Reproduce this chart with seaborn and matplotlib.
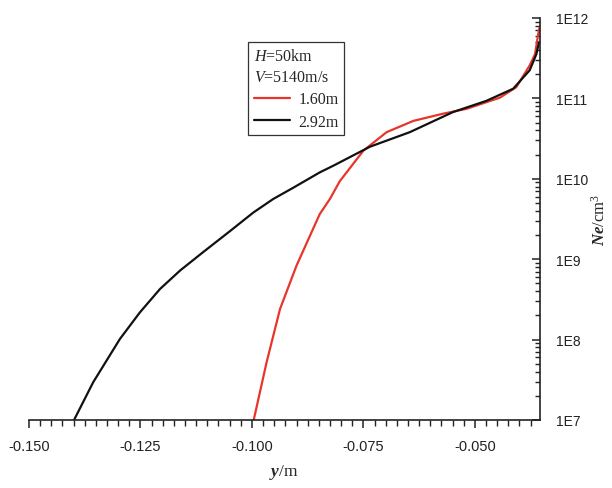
import matplotlib
matplotlib.use("Agg")
import matplotlib.pyplot as plt
from matplotlib.ticker import FixedLocator, FixedFormatter, MultipleLocator, LogLocator, NullFormatter
import seaborn as sns
import pandas as pd

# ---- data ----
y_160 = [-0.0996, -0.0967, -0.0937, -0.0900, -0.0848, -0.0825, -0.0803, -0.0750, -0.0698,
         -0.0638, -0.0571, -0.0519, -0.0444, -0.0407, -0.0377, -0.0365, -0.0358, -0.0354]
ne_160 = [1.00e7, 5.25e7, 2.40e8, 8.32e8, 3.63e9, 5.62e9, 9.33e9, 2.24e10, 3.80e10,
          5.25e10, 6.46e10, 7.41e10, 1.02e11, 1.38e11, 2.57e11, 3.55e11, 6.31e11, 7.94e11]

y_292 = [-0.1399, -0.1356, -0.1296, -0.1251, -0.1206, -0.1161, -0.1109, -0.1049, -0.0997,
         -0.0952, -0.0907, -0.0848, -0.0818, -0.0735, -0.0646, -0.0549, -0.0474, -0.0414,
         -0.0377, -0.0362, -0.0356]
ne_292 = [1.00e7, 2.95e7, 1.02e8, 2.19e8, 4.27e8, 7.24e8, 1.23e9, 2.24e9, 3.80e9,
          5.62e9, 7.76e9, 1.20e10, 1.45e10, 2.51e10, 3.80e10, 6.76e10, 9.33e10, 1.32e11,
          2.24e11, 3.55e11, 5.01e11]

series_names = ["1.60m", "2.92m"]
series_colors = ["#e8352a", "#111111"]

x_ticks = [-0.150, -0.125, -0.100, -0.075, -0.050]
x_ticklabels = ["-0.150", "-0.125", "-0.100", "-0.075", "-0.050"]
y_ticks = [1e7, 1e8, 1e9, 1e10, 1e11, 1e12]
y_ticklabels = ["1E7", "1E8", "1E9", "1E10", "1E11", "1E12"]

legend_title = "$H$=50km\n$V$=5140m/s"

# ---- build table ----
df = pd.concat([
    pd.DataFrame({"y": y_160, "Ne": ne_160, "case": series_names[0]}),
    pd.DataFrame({"y": y_292, "Ne": ne_292, "case": series_names[1]}),
], ignore_index=True)

sns.set_style("ticks")
plt.rcParams["font.family"] = ["Liberation Sans", "DejaVu Sans"]
plt.rcParams["mathtext.fontset"] = "custom"
plt.rcParams["mathtext.rm"] = "Liberation Serif"
plt.rcParams["mathtext.it"] = "Liberation Serif:italic"
plt.rcParams["mathtext.bf"] = "Liberation Serif:bold"
plt.rcParams["mathtext.bfit"] = "Liberation Serif:italic:bold"

fig = plt.figure(figsize=(6.12, 4.89), dpi=100)
ax = fig.add_axes([29 / 612, 1 - 421 / 489, (539.5 - 29) / 612, (421 - 19) / 489])

sns.lineplot(data=df, x="y", y="Ne", hue="case", hue_order=series_names,
             palette=dict(zip(series_names, series_colors)), sort=False,
             estimator=None, linewidth=1.6, ax=ax)

ax.set_yscale("log")
ax.set_xlim(-0.150, -0.0355)
ax.set_ylim(1e7, 1e12)

# spines
for s in ["left", "top"]:
    ax.spines[s].set_visible(False)
for s in ["right", "bottom"]:
    ax.spines[s].set_linewidth(1.2)
    ax.spines[s].set_color("#222222")

# x ticks
ax.xaxis.set_major_locator(FixedLocator(x_ticks))
ax.xaxis.set_major_formatter(FixedFormatter(x_ticklabels))
ax.xaxis.set_minor_locator(MultipleLocator(0.0025))
ax.tick_params(axis="x", which="major", direction="out", length=6, width=1.1,
               labelsize=10.5, pad=8, colors="#222222")
ax.tick_params(axis="x", which="minor", direction="out", length=4.5, width=1.0, colors="#222222")

# y ticks on right
ax.yaxis.tick_right()
ax.yaxis.set_label_position("right")
ax.yaxis.set_major_locator(FixedLocator(y_ticks))
ax.yaxis.set_major_formatter(FixedFormatter(y_ticklabels))
ax.yaxis.set_minor_locator(LogLocator(base=10, subs=range(2, 10)))
ax.yaxis.set_minor_formatter(NullFormatter())
ax.tick_params(axis="y", which="major", direction="in", length=6, width=1.1,
               labelsize=10, pad=12, colors="#222222", left=False, right=True)
ax.tick_params(axis="y", which="minor", direction="in", length=3.5, width=1.0,
               colors="#222222", left=False, right=True)

ax.set_xlabel(r"$\mathbfit{y}\mathrm{/m}$", fontsize=12.5, labelpad=6)
ax.set_ylabel(r"$\mathbfit{Ne}\mathrm{/cm^3}$", fontsize=12, labelpad=1, rotation=90)

leg = ax.legend(title=legend_title, alignment="left", loc="upper left",
                bbox_to_anchor=((248 - 29) / (539.5 - 29), 1 - (43 - 19) / (421 - 19)),
                frameon=True, fancybox=False, edgecolor="#333333", framealpha=1,
                prop={"family": "Liberation Serif", "size": 11.5}, handlelength=2.3,
                handletextpad=0.5, borderpad=0.35, labelspacing=0.4, borderaxespad=0)
leg.get_title().set_fontfamily("Liberation Serif")
leg.get_title().set_fontsize(11.5)
leg.get_title().set_linespacing(1.45)
leg.get_frame().set_linewidth(0.9)

fig.savefig("out.png", dpi=100)
